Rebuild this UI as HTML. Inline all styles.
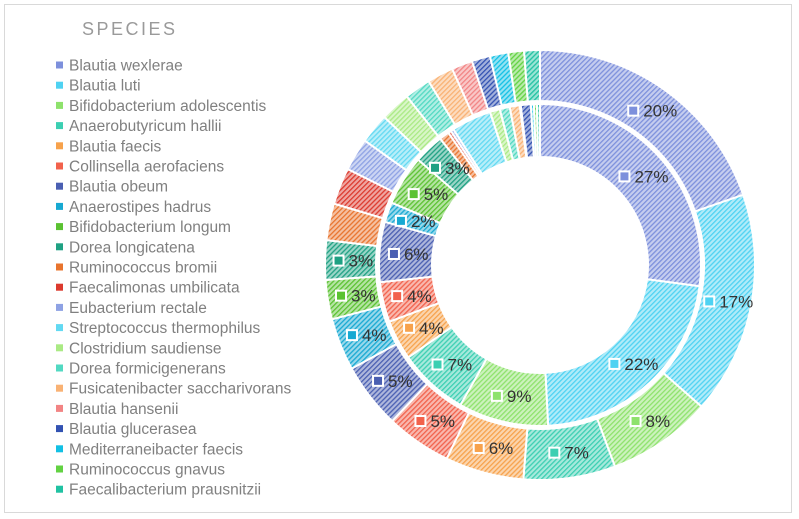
<!DOCTYPE html>
<html><head><meta charset="utf-8"><style>
body{margin:0;background:#fff;}
#wrap{position:relative;width:799px;height:519px;overflow:hidden;font-family:"Liberation Sans",sans-serif;}
#frame{position:absolute;left:4px;top:4px;width:788px;height:509px;border:1px solid #d9d9d9;box-sizing:border-box;}
</style></head><body>
<div id="wrap">
<div id="frame"></div>
<svg id="svg" width="799" height="519" style="position:absolute;left:0;top:0">
<defs id="defs"></defs>
<text x="82" y="35" font-size="18" fill="#9a9a9a" letter-spacing="2.5" font-family="Liberation Sans, sans-serif">SPECIES</text>
<g id="legend"></g>
<g id="outer"></g>
<g id="inner"></g>
<g id="labels"></g>
</svg>
</div>
<script>
const categories=["Blautia wexlerae","Blautia luti","Bifidobacterium adolescentis","Anaerobutyricum hallii","Blautia faecis","Collinsella aerofaciens","Blautia obeum","Anaerostipes hadrus","Bifidobacterium longum","Dorea longicatena","Ruminococcus bromii","Faecalimonas umbilicata","Eubacterium rectale","Streptococcus thermophilus","Clostridium saudiense","Dorea formicigenerans","Fusicatenibacter saccharivorans","Blautia hansenii","Blautia glucerasea","Mediterraneibacter faecis","Ruminococcus gnavus","Faecalibacterium prausnitzii"];
const outerValues=[20,17,8,7,6,5,5,4,3,3,2.8,2.8,2.5,2.3,2.3,2,2,1.6,1.4,1.4,1.2,1.2];
const innerValues=[27,22,9,7,4,4,6,2,5,3,1,0.3,0.3,4,1,1,1,0.1,1,0.3,0.3,0.3];
const outerLabels=["20%","17%","8%","7%","6%","5%","5%","4%","3%","3%"];
const innerLabels=["27%","22%","9%","7%","4%","4%","6%","2%","5%","3%"];
const colors=["#7d90dc","#4fd2f2","#8ee26c","#3ccfb2","#f7a24c","#f2624c","#4a5fb2","#17a9d2","#5bc232","#1fa183","#e8742e","#dc3a2e","#8ea2e4","#62d9f2","#aaea84","#52d9c2","#f9b274","#f28484","#3252b2","#12c0e4","#62d242","#20c2a2"];
const cx=540,cy=265;
const NS="http://www.w3.org/2000/svg";
const defs=document.getElementById('defs');
function lighten(hex,f){const n=parseInt(hex.slice(1),16);let r=n>>16,g=(n>>8)&255,b=n&255;r=Math.round(r+(255-r)*f);g=Math.round(g+(255-g)*f);b=Math.round(b+(255-b)*f);return `rgb(${r},${g},${b})`;}
colors.forEach((c,i)=>{
  const p=document.createElementNS(NS,'pattern');
  p.setAttribute('id','hp'+i);p.setAttribute('width','3.5');p.setAttribute('height','3.5');
  p.setAttribute('patternUnits','userSpaceOnUse');p.setAttribute('patternTransform','rotate(-45)');
  p.innerHTML=`<rect width="3.5" height="3.5" fill="${lighten(c,0.55)}"/><rect width="3.5" height="1.3" fill="${c}"/>`;
  defs.appendChild(p);
});
function pt(r,a){return [cx+r*Math.sin(a),cy-r*Math.cos(a)];}
function arc(r0,r1,a0,a1){
  const L=(a1-a0)>Math.PI?1:0;const p0=pt(r1,a0),p1=pt(r1,a1),p2=pt(r0,a1),p3=pt(r0,a0);
  return `M${p0[0]},${p0[1]}A${r1},${r1} 0 ${L} 1 ${p1[0]},${p1[1]}L${p2[0]},${p2[1]}A${r0},${r0} 0 ${L} 0 ${p3[0]},${p3[1]}Z`;
}
function ring(vals,r0,r1,gid,labs,nm){
  const g=document.getElementById(gid);const lg=document.getElementById('labels');
  const tot=vals.reduce((a,b)=>a+b,0);let a=0;
  vals.forEach((v,i)=>{
    const a0=a/tot*2*Math.PI,a1=(a+v)/tot*2*Math.PI;a+=v;
    const path=document.createElementNS(NS,'path');
    path.setAttribute('d',arc(r0,r1,a0,a1));
    path.setAttribute('fill','url(#hp'+i+')');path.setAttribute('stroke','#fff');path.setAttribute('stroke-width','2');
    
    
    g.appendChild(path);
    if(i<labs.length){
      const m=pt((r0+r1)/2,(a0+a1)/2);
      const lab=document.createElementNS(NS,'g');
      
      
      const w=labs[i].length*9.5;const x0=m[0]-(12+5+w)/2;
      lab.innerHTML=`<rect x="${x0+1}" y="${m[1]-5}" width="10" height="10" fill="${colors[i]}" stroke="#fff" stroke-width="2"/><text x="${x0+16}" y="${m[1]+6}" font-size="17" fill="#333" font-family="Liberation Sans, sans-serif">${labs[i]}</text>`;
      lg.appendChild(lab);
    }
  });
}
ring(outerValues,164,215,'outer',outerLabels,'outer');
ring(innerValues,108,161,'inner',innerLabels,'inner');
const leg=document.getElementById('legend');
categories.forEach((c,i)=>{
  const y=65+i*20.2;
  const e=document.createElementNS(NS,'g');
  
  
  e.innerHTML=`<rect x="56" y="${y-3.5}" width="7" height="7" fill="${colors[i]}"/><text x="69" y="${y+5.5}" font-size="15.5" fill="#808080" font-family="Liberation Sans, sans-serif">${c}</text>`;
  leg.appendChild(e);
});
</script>
</body></html>
